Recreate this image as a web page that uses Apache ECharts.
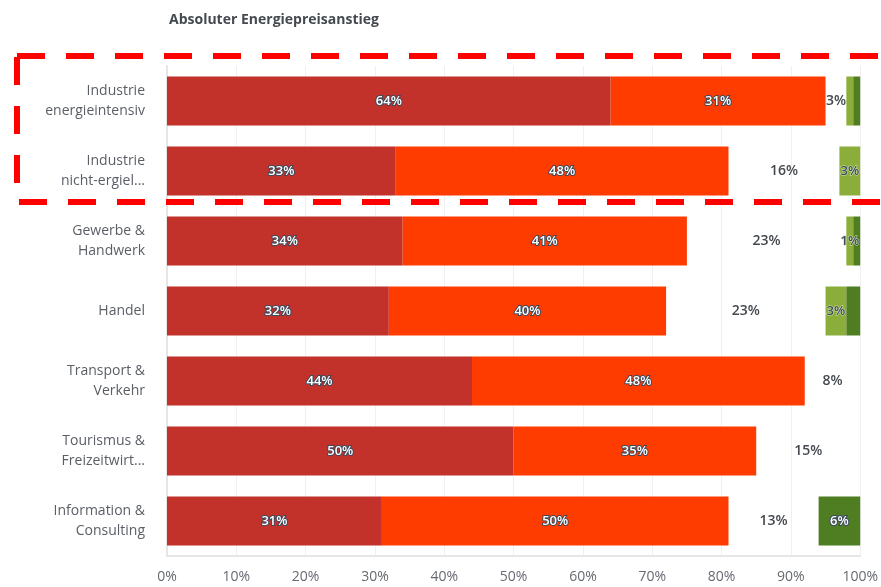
<!DOCTYPE html>
<html>
<head>
<meta charset="utf-8">
<style>
  html, body { margin: 0; padding: 0; background: #fff; overflow: hidden; }
  #chart { width: 881px; height: 587px; }
</style>
<script src="https://cdn.jsdelivr.net/npm/echarts@6/dist/echarts.min.js"></script>
</head>
<body>
<div id="chart"></div>
<script>
// Sectors, top to bottom
const categories = [
  'Industrie\nenergieintensiv',
  'Industrie\nnicht-ergiel...',
  'Gewerbe &\nHandwerk',
  'Handel',
  'Transport &\nVerkehr',
  'Tourismus &\nFreizeitwirt...',
  'Information &\nConsulting'
];

// Shares per sector (percent)
const strongRise   = [64, 33, 34, 32, 44, 50, 31];
const moderateRise = [31, 48, 41, 40, 48, 35, 50];
const neutral      = [3, 16, 23, 23, 8, 15, 13];
const lightGreen   = [1, 3, 1, 3, 0, 0, 0];
const darkGreen    = [1, 0, 1, 2, 0, 0, 6];

// Which green segments carry a visible label
const lightGreenLabelled = [false, true, true, true, false, false, false];
const darkGreenLabelled  = [false, false, false, false, false, false, true];

const tickValues = [0, 10, 20, 30, 40, 50, 60, 70, 80, 90, 100];

const FONT = '"Open Sans", "DejaVu Sans", sans-serif';

const insideLabel = {
  show: true,
  position: 'inside',
  color: '#ffffff',
  fontFamily: FONT,
  fontSize: 13,
  fontWeight: 600,
  textBorderColor: '#3c4a5c',
  textBorderWidth: 2,
  formatter: p => p.value > 0 ? p.value + '%' : ''
};

function withLabels(values, shown) {
  return values.map((v, i) => ({
    value: v,
    label: { show: shown[i] && v > 0 }
  }));
}

const chart = echarts.init(document.getElementById('chart'), null, { renderer: 'canvas' });

chart.setOption({
  animation: false,
  title: {
    text: 'Absoluter Energiepreisanstieg',
    left: 164,
    top: 8,
    textStyle: { fontFamily: FONT, fontSize: 14, fontWeight: 'bold', color: '#454a50' }
  },
  grid: { left: 167, right: 14, top: 66, bottom: 31, containLabel: false },
  xAxis: {
    type: 'value',
    min: 0,
    max: 100,
    interval: 10,
    axisLine: { show: true, lineStyle: { color: '#e6e6e6', width: 2 } },
    axisTick: { show: false },
    splitLine: { show: true, lineStyle: { color: '#f0f0f0', width: 1 } },
    axisLabel: {
      color: '#666a70',
      fontFamily: FONT,
      fontSize: 14,
      margin: 14,
      formatter: v => tickValues.includes(v) ? v + '%' : ''
    }
  },
  yAxis: {
    type: 'category',
    data: categories,
    inverse: true,
    axisTick: { show: false },
    axisLine: { show: true, lineStyle: { color: '#e6e6e6', width: 2 } },
    axisLabel: {
      color: '#5a5f66',
      fontFamily: FONT,
      fontSize: 14,
      lineHeight: 20,
      margin: 22,
      align: 'right'
    }
  },
  series: [
    {
      name: 'strong', type: 'bar', stack: 'total', barWidth: 49,
      data: strongRise,
      itemStyle: { color: '#c2322b' },
      label: insideLabel
    },
    {
      name: 'moderate', type: 'bar', stack: 'total',
      data: moderateRise,
      itemStyle: { color: '#ff3c00' },
      label: insideLabel
    },
    {
      name: 'neutral', type: 'bar', stack: 'total',
      data: neutral,
      itemStyle: { color: 'rgba(255,255,255,0)' },
      label: {
        show: true,
        position: 'inside',
        color: '#44494f',
        fontFamily: FONT,
        fontSize: 14,
        fontWeight: 600,
        formatter: p => p.value + '%'
      }
    },
    {
      name: 'lightGreen', type: 'bar', stack: 'total',
      data: withLabels(lightGreen, lightGreenLabelled),
      itemStyle: { color: '#8bae3a' },
      label: Object.assign({}, insideLabel, { color: '#3c4a5c', textBorderColor: '#d6e4b8', textBorderWidth: 1 })
    },
    {
      name: 'darkGreen', type: 'bar', stack: 'total',
      data: withLabels(darkGreen, darkGreenLabelled),
      itemStyle: { color: '#4e7d22' },
      label: insideLabel
    }
  ],
  graphic: [
    {
      type: 'rect',
      shape: { x: 17, y: 56, width: 2000, height: 146 },
      style: {
        fill: 'none',
        stroke: '#ff0000',
        lineWidth: 6,
        lineDash: [28, 21]
      },
      z: 100
    }
  ]
});
</script>
</body>
</html>
